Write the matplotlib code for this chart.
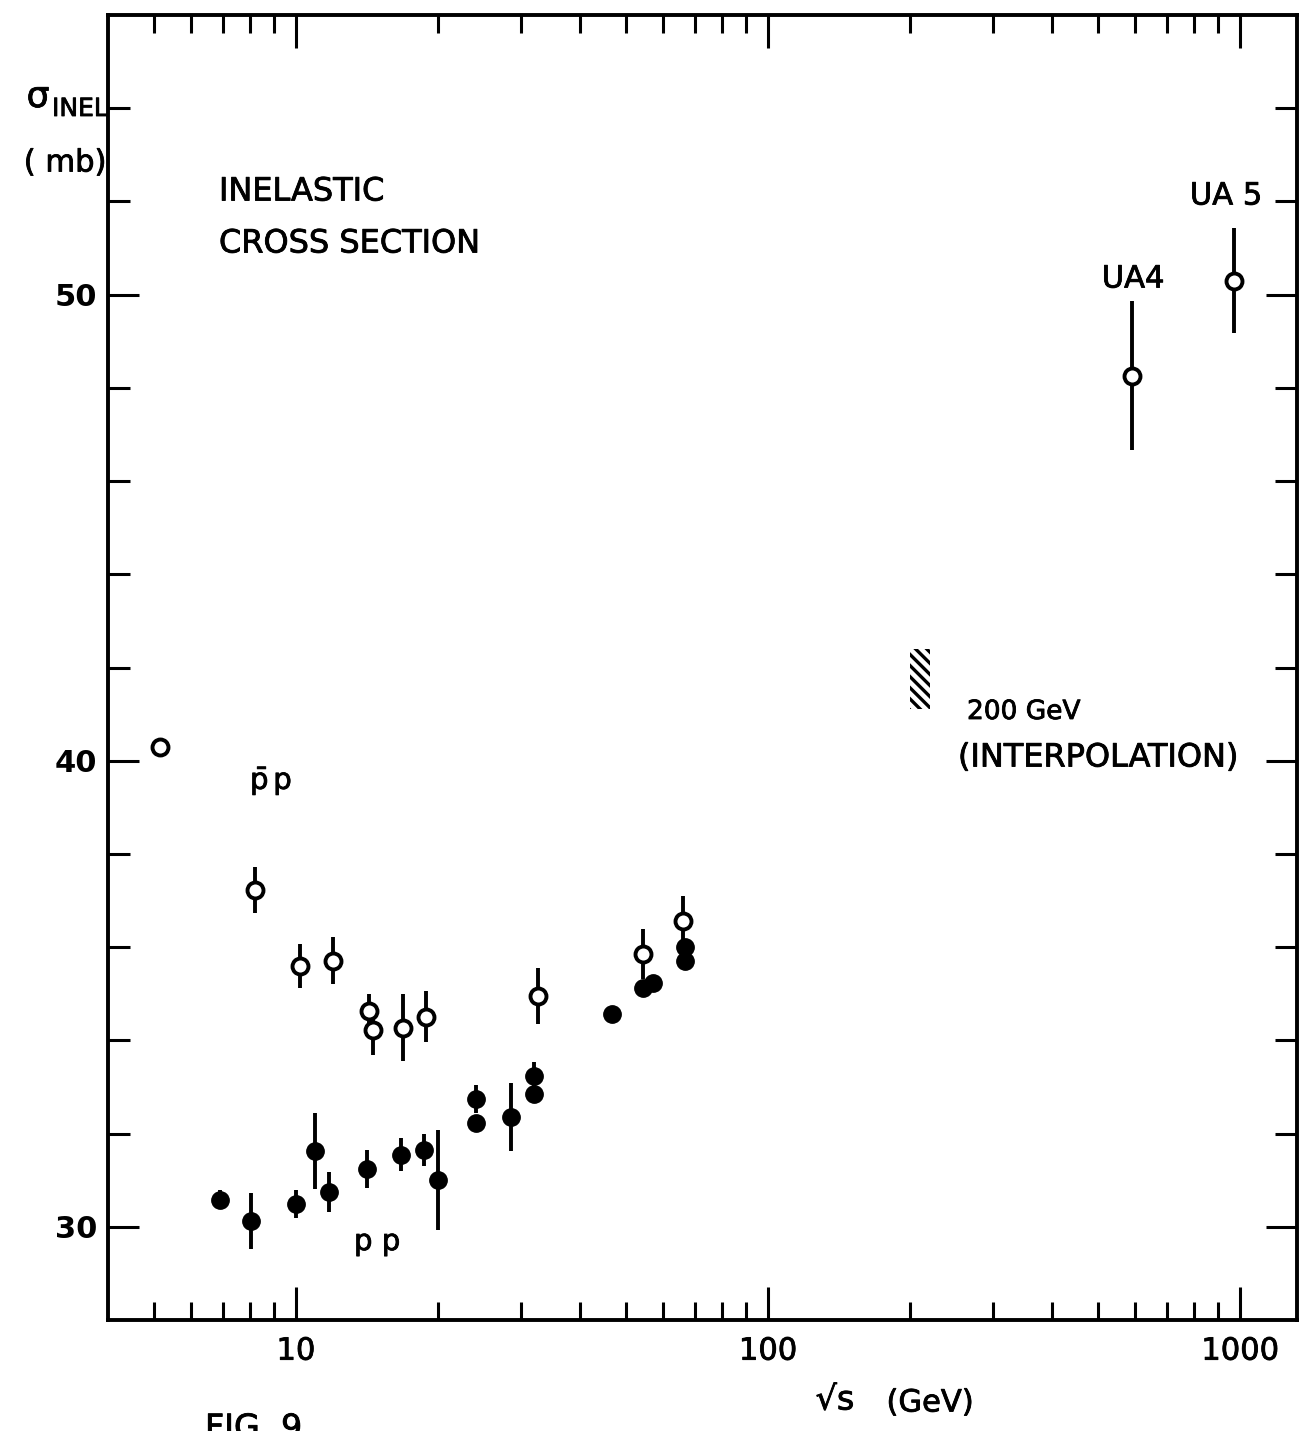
import numpy as np
import matplotlib
matplotlib.use('Agg')
import matplotlib.pyplot as plt
import matplotlib.ticker as mtick
import matplotlib.patheffects as pe
from matplotlib.patches import Rectangle

plt.rcParams['font.family'] = ['DejaVu Sans']
plt.rcParams['mathtext.fontset'] = 'dejavusans'
plt.rcParams['hatch.linewidth'] = 2.4

# pbar-p (open circles): sqrt(s) in GeV, sigma_inel in mb, error in mb
pbarp_x = [5.15, 8.19, 10.2, 11.98, 14.28, 14.6, 16.85, 18.86, 32.6, 54.3, 66.1]
pbarp_y = [40.3, 37.23, 35.6, 35.71, 34.64, 34.23, 34.27, 34.51, 34.96, 35.86, 36.57]
pbarp_err = [0, 0.5, 0.47, 0.5, 0.35, 0.55, 0.72, 0.55, 0.6, 0.54, 0.52]

# collider points UA4, UA5
ua_x = [590, 970]
ua_y = [48.26, 50.3]
ua_err = [1.6, 1.13]
ua_names = ['UA4', 'UA 5']

# pp (filled circles)
pp_x = [6.90, 8.03, 10.0, 10.97, 11.75, 14.14, 16.69, 18.67, 20.0, 24.06, 24.06,
        28.54, 31.93, 31.93, 46.7, 54.4, 57.1, 66.7, 66.7]
pp_y = [30.58, 30.13, 30.49, 31.63, 30.75, 31.24, 31.55, 31.65, 31.01, 32.75, 32.23,
        32.36, 33.24, 32.85, 34.57, 35.13, 35.24, 36.01, 35.71]
pp_err = [0.2, 0.6, 0.3, 0.82, 0.43, 0.4, 0.35, 0.35, 1.07, 0.3, 0,
          0.73, 0.3, 0, 0, 0, 0, 0, 0]

# 200 GeV interpolation band
interp_x = [200, 220]
interp_y = [41.1, 42.4]

W, H = 1315, 1431
fig = plt.figure(figsize=(W/100, H/100), dpi=100)
ax = fig.add_axes([108/W, 1-1320/H, (1297-108)/W, (1320-15)/H])

def fx(px):
    return px/W
def fy(py):
    return 1-py/H

thick = [pe.withStroke(linewidth=0.6, foreground='black')]

def label(px, py, s, size, ha='left', va='center'):
    fig.text(fx(px), fy(py), s, fontsize=size, ha=ha, va=va, path_effects=thick)

ax.errorbar(pp_x, pp_y, yerr=pp_err, fmt='o', color='black', ms=12.5,
            elinewidth=2.8, capsize=0)
ax.errorbar(pbarp_x, pbarp_y, yerr=pbarp_err, fmt='o', mfc='white', mec='black',
            ms=11.5, mew=2.8, ecolor='black', elinewidth=2.8, capsize=0)
ax.errorbar(ua_x, ua_y, yerr=ua_err, fmt='o', mfc='white', mec='black',
            ms=11.5, mew=2.8, ecolor='black', elinewidth=2.8, capsize=0)

ax.add_patch(Rectangle((interp_x[0], interp_y[0]), interp_x[1]-interp_x[0],
                       interp_y[1]-interp_y[0], fill=False, hatch='\\\\\\',
                       edgecolor='black', linewidth=0))

ax.set_xscale('log')
ax.set_xlim(4.0, 1320)
ax.set_ylim(28, 56)

ax.xaxis.set_major_locator(mtick.FixedLocator([10, 100, 1000]))
ax.xaxis.set_minor_locator(mtick.FixedLocator(
    [5, 6, 7, 8, 9] + list(range(20, 100, 10)) + list(range(200, 1000, 100))))
ax.xaxis.set_major_formatter(mtick.FixedFormatter(['10', '100', '1000']))
ax.xaxis.set_minor_formatter(mtick.NullFormatter())
ax.yaxis.set_major_locator(mtick.FixedLocator([30, 40, 50]))
ax.yaxis.set_minor_locator(mtick.FixedLocator(list(range(32, 56, 2))))
ax.yaxis.set_major_formatter(mtick.FixedFormatter(['30', '40', '50']))

ax.tick_params(axis='x', which='both', direction='in', top=True, bottom=True,
               width=2.2, labelsize=22, pad=12)
ax.tick_params(axis='x', which='major', length=24)
ax.tick_params(axis='x', which='minor', length=13)
ax.tick_params(axis='y', which='both', direction='in', left=True, right=True,
               width=2.2, labelsize=22, pad=8)
ax.tick_params(axis='y', which='major', length=22)
ax.tick_params(axis='y', which='minor', length=16)
for lab in ax.get_yticklabels():
    lab.set_fontweight('bold')
for lab in ax.get_xticklabels():
    lab.set_path_effects(thick)
for s in ax.spines.values():
    s.set_linewidth(2.8)

# axis titles
label(38, 97, 'σ', 26, ha='center')
label(52, 109, 'INEL', 18)
label(65, 163, '( mb)', 22, ha='center')
label(835, 1400, '√s', 24, ha='center')
label(930, 1403, '(GeV)', 22, ha='center')
label(205, 1412, 'FIG. 9', 24, va='top')

# annotations
label(219, 192, 'INELASTIC', 23)
label(219, 244, 'CROSS SECTION', 23)
label(1226, 196, ua_names[1], 22, ha='center')
label(1133, 279, ua_names[0], 22, ha='center')
label(967, 712, '200 GeV', 19)
label(958, 758, '(INTERPOLATION)', 23)
label(250, 781, r'$\bar{\rm p}\,$p', 21)
label(354, 1242, 'p p', 21)

fig.savefig('out.png', dpi=100)
